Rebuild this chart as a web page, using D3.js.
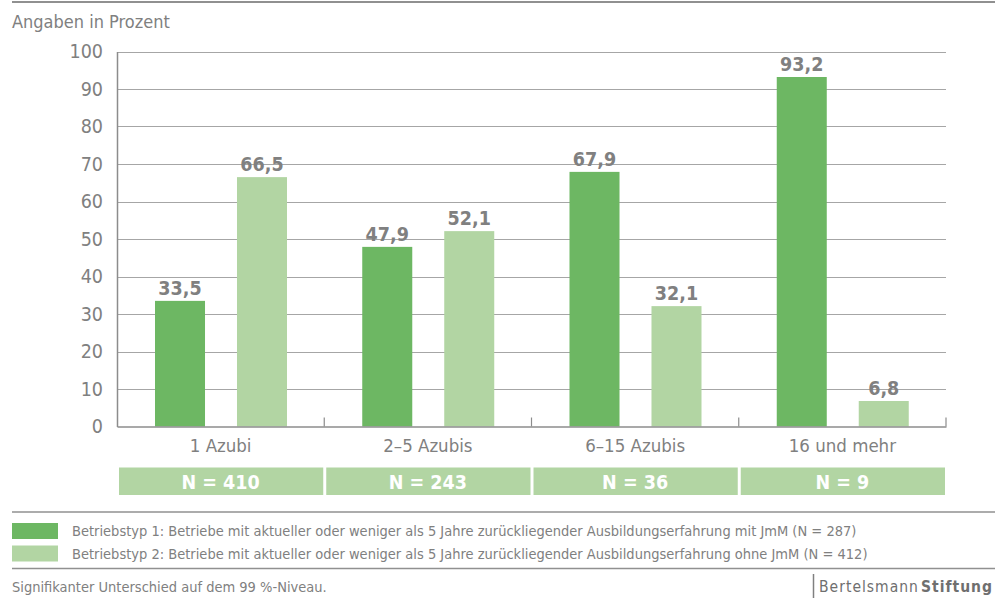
<!DOCTYPE html>
<html><head><meta charset="utf-8">
<script src="https://cdn.jsdelivr.net/npm/d3@7"></script>
<style>
body{margin:0;background:#fff;}
text{font-family:"DejaVu Sans Condensed","Liberation Sans Narrow",sans-serif;}
</style></head>
<body><svg id="c" width="995" height="598"></svg>
<script>
const categories = ["1 Azubi","2–5 Azubis","6–15 Azubis","16 und mehr"];
const nLabels = ["N = 410","N = 243","N = 36","N = 9"];
const series1 = [33.5,47.9,67.9,93.2];
const series2 = [66.5,52.1,32.1,6.8];
const seriesNames = [
 "Betriebstyp 1: Betriebe mit aktueller oder weniger als 5 Jahre zurückliegender Ausbildungserfahrung mit JmM (N = 287)",
 "Betriebstyp 2: Betriebe mit aktueller oder weniger als 5 Jahre zurückliegender Ausbildungserfahrung ohne JmM (N = 412)"
];
const yTicks = [0,10,20,30,40,50,60,70,80,90,100];
const colors = ["#6db763","#b2d5a3"];
const gray = "#808080";

const svg = d3.select("#c");
const x0 = 117, x1 = 946, yTop = 51.5, yBot = 426.5;
const x = d3.scaleBand().domain(categories).range([x0,x1]).paddingInner(0).paddingOuter(0);
const xs = d3.scaleBand().domain([0,1]).range([38,170]).paddingInner(0.39).paddingOuter(0);
const y = d3.scaleLinear().domain([0,100]).range([yBot,yTop]);

// top rule
svg.append("line").attr("x1",12).attr("x2",995).attr("y1",2).attr("y2",2).attr("stroke","#909090").attr("stroke-width",2);
svg.append("text").attr("x",12).attr("y",28).attr("fill",gray).attr("font-size",18).text("Angaben in Prozent");

// gridlines
svg.append("g").selectAll("line").data(yTicks.filter(d=>d>0)).join("line")
 .attr("x1",x0).attr("x2",x1).attr("y1",d=>Math.round(y(d))+0.5).attr("y2",d=>Math.round(y(d))+0.5)
 .attr("stroke","#a6a6a6").attr("stroke-width",1);

// y axis
const ya = svg.append("g").attr("transform",`translate(${x0},0)`).call(d3.axisLeft(y).tickValues(yTicks).tickSize(0).tickPadding(14));
ya.select(".domain").attr("stroke","#8c8c8c").attr("stroke-width",1.5);
ya.selectAll("text").attr("fill",gray).attr("font-size",19.5).attr("font-family","'DejaVu Sans Condensed',sans-serif");

// bars
const groups = svg.append("g").selectAll("g").data(categories).join("g").attr("transform",d=>`translate(${x(d)},0)`);
groups.each(function(c,i){
  const g = d3.select(this);
  [series1[i],series2[i]].forEach((v,k)=>{
    g.append("rect").attr("x",xs(k)).attr("width",xs.bandwidth()).attr("y",y(v)).attr("height",yBot-y(v)).attr("fill",colors[k]);
    g.append("text").attr("x",xs(k)+xs.bandwidth()/2).attr("y",y(v)-6).attr("text-anchor","middle")
     .attr("fill",gray).attr("font-size",19.5).attr("font-weight","bold").text(d3.format(".1f")(v).replace(".",","));
  });
});

// x axis
const xa = svg.append("g").attr("transform",`translate(0,${yBot})`).call(d3.axisBottom(x).tickSize(0).tickPadding(12));
xa.select(".domain").attr("stroke","#8c8c8c").attr("stroke-width",1.5);
xa.selectAll("text").attr("fill",gray).attr("font-size",18.5).attr("font-family","'DejaVu Sans Condensed',sans-serif");
// inward ticks at category boundaries
svg.append("g").selectAll("line").data(categories.slice(1).map(c=>x(c)).concat([x1])).join("line")
 .attr("x1",d=>d).attr("x2",d=>d).attr("y1",yBot-9).attr("y2",yBot).attr("stroke","#8c8c8c").attr("stroke-width",1.2);

// N boxes
const nb = svg.append("g").selectAll("g").data(categories).join("g");
nb.append("rect").attr("x",d=>x(d)+2).attr("width",x.bandwidth()-3).attr("y",467.5).attr("height",27.5).attr("fill",colors[1]);
nb.append("text").attr("x",d=>x(d)+x.bandwidth()/2).attr("y",489).attr("text-anchor","middle").attr("fill","#fff")
 .attr("font-size",19.5).attr("font-weight","bold").text((d,i)=>nLabels[i]);

// legend
svg.append("line").attr("x1",12).attr("x2",995).attr("y1",512).attr("y2",512).attr("stroke","#909090").attr("stroke-width",1.5);
const lg = svg.append("g").selectAll("g").data(seriesNames).join("g").attr("transform",(d,i)=>`translate(12,${523+i*22.5})`);
lg.append("rect").attr("width",46).attr("height",16).attr("fill",(d,i)=>colors[i]);
lg.append("text").attr("x",60).attr("y",13).attr("fill",gray).attr("font-size",14.5).text(d=>d);
svg.append("line").attr("x1",12).attr("x2",995).attr("y1",568.5).attr("y2",568.5).attr("stroke","#909090").attr("stroke-width",1.5);

svg.append("text").attr("x",12).attr("y",592).attr("fill",gray).attr("font-size",14.5).text("Signifikanter Unterschied auf dem 99 %-Niveau.");

// logo
svg.append("line").attr("x1",813.5).attr("x2",813.5).attr("y1",574).attr("y2",598).attr("stroke","#808080").attr("stroke-width",1.5);
const logo = svg.append("text").attr("x",993).attr("y",592).attr("text-anchor","end").attr("fill","#6f6f6f").attr("font-size",15.5).attr("letter-spacing",1).attr("font-family","'DejaVu Sans',sans-serif");
logo.append("tspan").text("Bertelsmann");
logo.append("tspan").attr("font-weight","bold").attr("dx",2).text("Stiftung");
</script></body></html>
